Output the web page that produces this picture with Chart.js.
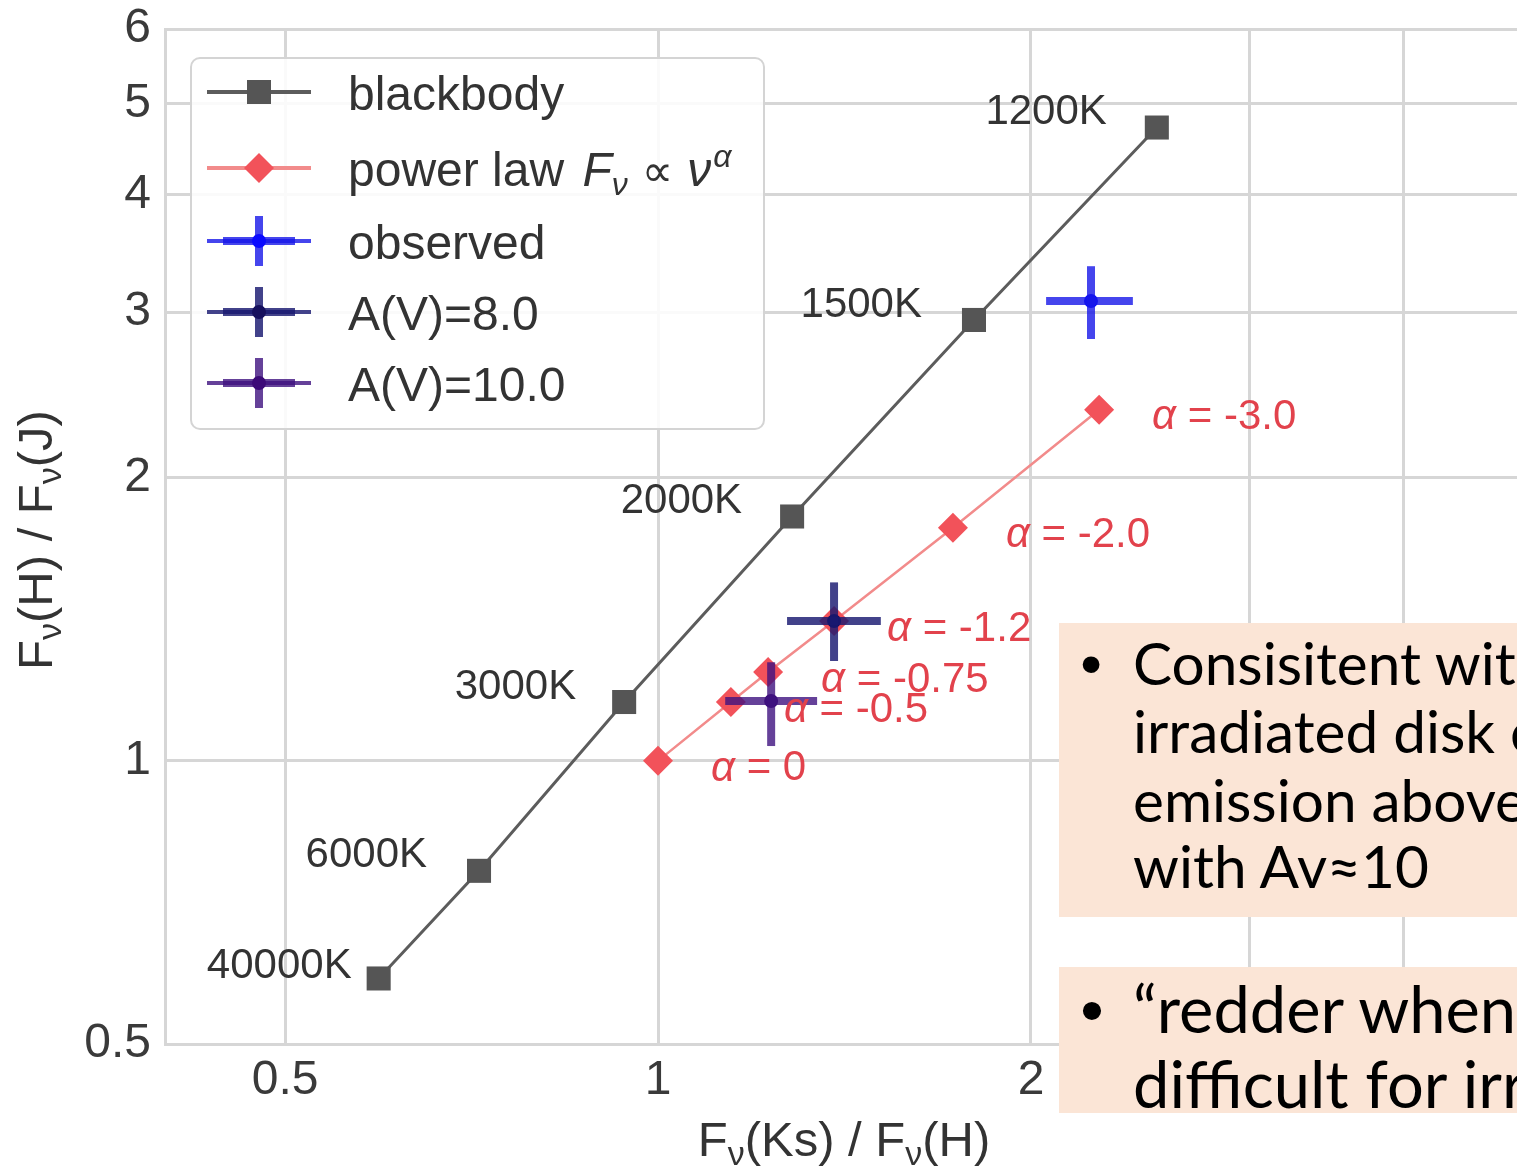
<!DOCTYPE html>
<html>
<head>
<meta charset="utf-8">
<title>Near-IR colour-colour diagram</title>
<script src="https://cdn.jsdelivr.net/npm/chart.js@4.4.1/dist/chart.umd.min.js"></script>
<style>
  html, body { margin:0; padding:0; background:#ffffff; }
  body { width:1517px; height:1166px; overflow:hidden; position:relative; }
  #chart { position:absolute; left:0; top:0; }
  #overlay { position:absolute; left:0; top:0; pointer-events:none; }
</style>
</head>
<body>
<canvas id="chart" width="1560" height="1166" style="width:1560px;height:1166px"></canvas>
<svg id="overlay" width="1517" height="1166" xmlns="http://www.w3.org/2000/svg"></svg>
<script>
// ---------------- data ----------------
const bbTemps = ["40000K", "6000K", "3000K", "2000K", "1500K", "1200K"];
const bbX = [0.595, 0.717, 0.939, 1.283, 1.799, 2.527];
const bbY = [0.587, 0.764, 1.155, 1.819, 2.943, 4.714];

const plAlpha = ["0", "-0.5", "-0.75", "-1.2", "-2.0", "-3.0"];
const plX = [1.000, 1.145, 1.227, 1.387, 1.730, 2.270];
const plY = [1.000, 1.155, 1.243, 1.408, 1.770, 2.362];

const obsNames = ["observed", "A(V)=8.0", "A(V)=10.0"];
const obsX   = [2.236, 1.387, 1.234];
const obsY   = [3.083, 1.408, 1.158];
const obsXLo = [2.057, 1.271, 1.133];
const obsXHi = [2.417, 1.513, 1.344];
const obsYLo = [2.809, 1.277, 1.037];
const obsYHi = [3.357, 1.548, 1.273];

const xTicks = [0.5, 1, 2, 3, 4];
const xTickLabels = ["0.5", "1", "2", "3", "4"];
const yTicks = [0.5, 1, 2, 3, 4, 5, 6];
const yTickLabels = ["0.5", "1", "2", "3", "4", "5", "6"];

const xTitleParts = ["F", "ν", "(Ks) / F", "ν", "(H)"];
const yTitleParts = ["F", "ν", "(H) / F", "ν", "(J)"];

const box1Lines = ["Consisitent with", "irradiated disk or", "emission above", "with Av≈10"];
const box2Lines = ["“redder when", "difficult for irradiated"];

// ---------------- styles ----------------
const FONT = '"Liberation Sans", Arial, Helvetica, sans-serif';
const LATO = 'Lato, "Open Sans", sans-serif';
const TXT = '#3a3a3a';
const GRID = '#d6d6d6';
const bbLine = '#5c5c5c', bbMark = '#555555';
const plLine = '#f28b8b', plMark = '#f2525a', plText = '#e2424c';
const barColors = ['rgba(22,22,232,0.8)', 'rgba(25,25,112,0.82)', 'rgba(62,18,128,0.8)'];
const ctrColors = ['#0a0aff', '#16105e', '#3c0a78'];

const xy = (xs, ys) => xs.map((v, i) => ({ x: v, y: ys[i] }));

const datasets = [
  { label: 'blackbody', data: xy(bbX, bbY), showLine: true, borderColor: bbLine, borderWidth: 3,
    pointStyle: 'rect', pointRadius: 17, pointHoverRadius: 17, pointBackgroundColor: bbMark,
    pointBorderColor: bbMark, pointBorderWidth: 0, order: 2 },
  { label: 'power law', data: xy(plX, plY), showLine: true, borderColor: plLine, borderWidth: 2.5,
    pointStyle: 'rectRot', pointRadius: 15, pointHoverRadius: 15, pointBackgroundColor: plMark,
    pointBorderColor: plMark, pointBorderWidth: 0, order: 1 }
];
obsNames.forEach((name, i) => {
  datasets.push({ label: name + ' x-error', data: [{ x: obsXLo[i], y: obsY[i] }, { x: obsXHi[i], y: obsY[i] }],
    showLine: true, borderColor: barColors[i], borderWidth: 8, pointRadius: 0, pointHoverRadius: 0, order: 0 });
  datasets.push({ label: name + ' y-error', data: [{ x: obsX[i], y: obsYLo[i] }, { x: obsX[i], y: obsYHi[i] }],
    showLine: true, borderColor: barColors[i], borderWidth: 8, pointRadius: 0, pointHoverRadius: 0, order: 0 });
  datasets.push({ label: name, data: [{ x: obsX[i], y: obsY[i] }], pointRadius: 7, pointHoverRadius: 7,
    pointBackgroundColor: ctrColors[i], pointBorderWidth: 0, order: 0 });
});

// annotation offsets (pixels) relative to the marker
const bbLabelOffset = [[-27, -12], [-52, -15], [-48, -15], [-50, -15], [-52, -15], [-50, -15]];
const plLabelOffset = [53, 8];

const labelPlugin = {
  id: 'pointLabels',
  afterDatasetsDraw(chart) {
    const { ctx, scales: { x, y } } = chart;
    ctx.save();
    ctx.textBaseline = 'middle';
    ctx.font = '42px ' + FONT;
    ctx.fillStyle = '#333333';
    ctx.textAlign = 'right';
    bbTemps.forEach((t, i) => {
      const px = x.getPixelForValue(bbX[i]), py = y.getPixelForValue(bbY[i]);
      ctx.fillText(t, px + bbLabelOffset[i][0], py + bbLabelOffset[i][1]);
    });
    ctx.textAlign = 'left';
    ctx.fillStyle = plText;
    plAlpha.forEach((a, i) => {
      const px = x.getPixelForValue(plX[i]) + plLabelOffset[0];
      const py = y.getPixelForValue(plY[i]) + plLabelOffset[1];
      ctx.font = 'italic 42px ' + FONT;
      ctx.fillText('α', px, py);
      const w = ctx.measureText('α').width;
      ctx.font = '42px ' + FONT;
      ctx.fillText(' = ' + a, px + w, py);
    });
    ctx.restore();
  }
};

const tickFont = { family: FONT, size: 48 };
new Chart(document.getElementById('chart'), {
  type: 'scatter',
  data: { datasets },
  options: {
    responsive: false, animation: false, events: [],
    devicePixelRatio: 1,
    layout: { padding: { left: 0, top: 29, right: 36, bottom: 0 } },
    plugins: { legend: { display: false }, tooltip: { enabled: false } },
    scales: {
      x: {
        type: 'logarithmic', min: 0.4, max: 5,
        afterBuildTicks: s => { s.ticks = xTicks.map(v => ({ value: v })); },
        afterFit: s => { s.height = 122; s.paddingLeft = 0; s.paddingRight = 0; },
        ticks: { callback: (v, i) => xTickLabels[i], font: tickFont, color: TXT, padding: 8,
                 maxRotation: 0, autoSkip: false },
        grid: { color: GRID, lineWidth: 3, drawTicks: false },
        border: { color: GRID, width: 3 }
      },
      y: {
        type: 'logarithmic', min: 0.5, max: 6,
        afterBuildTicks: s => { s.ticks = yTicks.map(v => ({ value: v })); },
        afterFit: s => { s.width = 165; s.paddingTop = 0; s.paddingBottom = 0; },
        ticks: { callback: (v, i) => yTickLabels[i], font: tickFont, color: TXT, padding: 14,
                 autoSkip: false },
        grid: { color: GRID, lineWidth: 3, drawTicks: false },
        border: { color: GRID, width: 3 }
      }
    }
  },
  plugins: [labelPlugin]
});

// ---------------- overlay: legend, axis titles, text boxes ----------------
const NS = 'http://www.w3.org/2000/svg';
const svg = document.getElementById('overlay');
function el(tag, attrs, parent) {
  const e = document.createElementNS(NS, tag);
  for (const k in attrs) e.setAttribute(k, attrs[k]);
  (parent || svg).appendChild(e);
  return e;
}
function ts(parent, text, attrs) { const t = el('tspan', attrs || {}, parent); t.textContent = text; return t; }

// legend
el('rect', { x: 191, y: 58, width: 573, height: 371, rx: 9, fill: '#ffffff', 'fill-opacity': 0.88,
             stroke: '#d4d4d4', 'stroke-width': 2 });
const rowY = [92, 168, 241, 312, 383];
const hx0 = 207, hx1 = 311, hc = 259;
// blackbody
el('line', { x1: hx0, y1: rowY[0], x2: hx1, y2: rowY[0], stroke: bbLine, 'stroke-width': 4 });
el('rect', { x: hc - 12, y: rowY[0] - 12, width: 24, height: 24, fill: bbMark });
// power law
el('line', { x1: hx0, y1: rowY[1], x2: hx1, y2: rowY[1], stroke: plLine, 'stroke-width': 4 });
el('polygon', { points: `${hc - 15},${rowY[1]} ${hc},${rowY[1] - 15} ${hc + 15},${rowY[1]} ${hc},${rowY[1] + 15}`, fill: plMark });
// error-bar entries
obsNames.forEach((n, i) => {
  const cy = rowY[2 + i];
  el('line', { x1: hx0, y1: cy, x2: hx1, y2: cy, stroke: barColors[i], 'stroke-width': 4 });
  el('line', { x1: hc - 36, y1: cy, x2: hc + 36, y2: cy, stroke: barColors[i], 'stroke-width': 8 });
  el('line', { x1: hc, y1: cy - 25, x2: hc, y2: cy + 25, stroke: barColors[i], 'stroke-width': 8 });
  el('circle', { cx: hc, cy: cy, r: 7, fill: ctrColors[i] });
});
const legAttrs = (i) => ({ x: 348, y: rowY[i] + 18, 'font-family': FONT, 'font-size': 48, fill: '#333333' });
el('text', legAttrs(0)).textContent = 'blackbody';
{
  const t = el('text', legAttrs(1));
  ts(t, 'power law ');
  ts(t, 'F', { 'font-style': 'italic', dx: 5 });
  ts(t, 'ν', { 'font-style': 'italic', 'font-size': 32, dy: 9 });
  ts(t, '∝', { dy: -9, dx: 14, 'font-family': '"DejaVu Sans", ' + FONT, 'font-size': 44 });
  ts(t, 'ν', { 'font-style': 'italic', dx: 14 });
  ts(t, 'α', { 'font-style': 'italic', 'font-size': 32, dy: -19, dx: 2 });
}
obsNames.forEach((n, i) => { el('text', legAttrs(2 + i)).textContent = n; });

// axis titles
function titleText(parts, attrs) {
  const t = el('text', attrs);
  parts.forEach((p, i) => {
    if (i % 2 === 1) ts(t, p, { 'font-size': 34, dy: 9 });
    else ts(t, p, i > 0 ? { dy: -9 } : {});
  });
  return t;
}
titleText(xTitleParts, { x: 844, y: 1156, 'text-anchor': 'middle', 'font-family': FONT, 'font-size': 49, fill: '#333333' });
titleText(yTitleParts, { x: 0, y: 0, transform: 'translate(52,540) rotate(-90)', 'text-anchor': 'middle',
                         'font-family': FONT, 'font-size': 49, fill: '#333333' });

// text boxes
function fitSize(text, family, target) {
  const c = document.createElement('canvas').getContext('2d');
  c.font = '100px ' + family;
  return 100 * target / c.measureText(text).width;
}
const s1 = fitSize('irradiated disk', LATO, 362);
const s2 = fitSize('difficult for irr', LATO, 394);
const BOX = '#FBE5D6';
el('rect', { x: 1059, y: 623, width: 520, height: 294, fill: BOX });
el('rect', { x: 1059, y: 967, width: 520, height: 146, fill: BOX });
const b1 = [685, 753, 822, 888], b2 = [1033, 1108];
el('text', { x: 1091, y: b1[0], 'text-anchor': 'middle', 'font-family': FONT, 'font-size': 62, fill: '#000' }).textContent = '•';
el('text', { x: 1092, y: b2[0], 'text-anchor': 'middle', 'font-family': FONT, 'font-size': 67, fill: '#000' }).textContent = '•';
box1Lines.forEach((l, i) => {
  el('text', { x: 1133, y: b1[i], 'font-family': LATO, 'font-size': s1.toFixed(2), fill: '#000' }).textContent = l;
});
box2Lines.forEach((l, i) => {
  el('text', { x: 1133, y: b2[i], 'font-family': LATO, 'font-size': s2.toFixed(2), fill: '#000' }).textContent = l;
});
</script>
</body>
</html>
